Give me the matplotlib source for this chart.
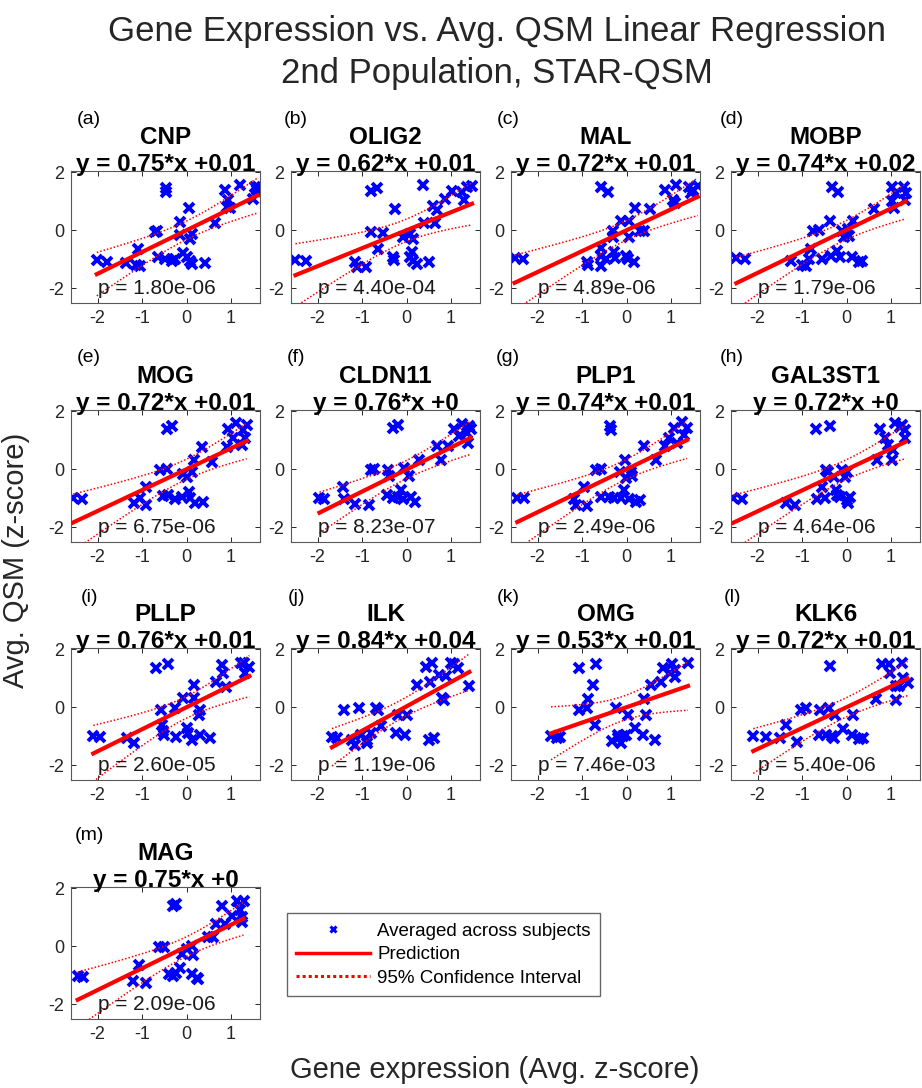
import numpy as np
import matplotlib.pyplot as plt
from matplotlib.lines import Line2D

plt.rcParams['font.family'] = ['Liberation Sans', 'DejaVu Sans']
plt.rcParams['axes.unicode_minus'] = False

genes = ["CNP", "OLIG2", "MAL", "MOBP", "MOG", "CLDN11", "PLP1", "GAL3ST1",
         "PLLP", "ILK", "OMG", "KLK6", "MAG"]
letters = ["a", "b", "c", "d", "e", "f", "g", "h", "i", "j", "k", "l", "m"]
slopes = [0.75, 0.62, 0.72, 0.74, 0.72, 0.76, 0.74, 0.72, 0.76, 0.84, 0.53, 0.72, 0.75]
intercepts = [0.01, 0.01, 0.01, 0.02, 0.01, 0, 0.01, 0, 0.01, 0.04, 0.01, 0.01, 0]
p_values = [1.80e-06, 4.40e-04, 4.89e-06, 1.79e-06, 6.75e-06, 8.23e-07, 2.49e-06,
            4.64e-06, 2.60e-05, 1.19e-06, 7.46e-03, 5.40e-06, 2.09e-06]

# gene expression (x) and avg QSM (y), averaged across subjects
x_cnp = [-2.02, -1.8, -1.37, -1.09, -1.13, -1.05, -0.71, -0.66, -0.47, -0.47, -0.64, -0.48,
         -0.32, -0.26, -0.15, -0.15, -0.08, 0.0, 0.08, 0.11, 0.06, 0.11, 0.08, 0.41, 0.64,
         0.86, 0.94, 0.98, 0.9, 1.19, 1.5, 1.54, 1.6, 1.58, 1.6]
y_cnp = [-1.02, -1.07, -1.13, -0.64, -1.19, -1.22, -0.06, -0.03, 1.45, 1.34, -0.91, -0.99,
         -1.05, -0.99, 0.29, -0.17, -0.79, -0.93, -0.29, -0.12, 0.76, -1.16, -1.05, -1.13, 0.26,
         1.4, 1.05, 0.76, 0.81, 1.57, 1.1, 1.51, 1.51, 1.4, 1.3]

x_olig2 = [-2.5, -2.27, -1.16, -1.11, -0.91, -0.79, -0.66, -0.79, -0.64, -0.53, -0.26, -0.3,
           -0.28, -0.08, 0.08, 0.11, 0.08, 0.15, 0.23, 0.15, 0.36, 0.39, 0.51, 0.59, 0.64,
           0.68, 0.87, 1.02, 1.25, 1.28, 1.36, 1.47]
y_olig2 = [-1.02, -1.06, -1.1, -1.27, -1.25, 1.36, 1.48, -0.06, -0.64, -0.09, 0.75, -0.92,
           -1.02, -0.23, -0.12, -0.75, -0.92, -1.04, -1.16, -0.29, 1.56, 0.25, -1.1, 0.83, 0.25,
           0.69, 1.1, 1.36, 1.33, 1.04, 1.5, 1.53]

x_mal = [-2.52, -2.32, -0.88, -0.86, -0.58, -0.42, -0.58, -0.57, -0.57, -0.46, -0.31, -0.31,
         -0.29, -0.27, -0.13, -0.01, 0.06, 0.06, 0.02, 0.17, 0.18, 0.3, 0.39, 0.52, 0.87,
         1.04, 1.11, 1.09, 1.41, 1.44, 1.6, 1.5]
y_mal = [-0.96, -0.98, -1.09, -1.18, 1.49, 1.34, -0.62, -0.87, -1.21, -0.98, -0.02, -0.24,
         -0.75, -0.96, 0.32, -0.87, 0.32, -0.24, -0.98, -1.09, 0.78, -0.02, -0.02, 0.74, 1.4,
         1.06, 1.57, 0.95, 1.51, 1.29, 1.54, 1.4]

x_mobp = [-2.48, -2.28, -1.25, -1.0, -0.92, -0.85, -0.81, -0.75, -0.62, -0.55, -0.38, -0.36,
          -0.32, -0.2, -0.21, -0.15, -0.1, -0.06, 0.02, 0.05, 0.15, 0.13, 0.28, 0.35, 0.62,
          1.03, 1.03, 1.07, 1.1, 1.29, 1.33, 1.31]
y_mobp = [-0.96, -0.98, -1.04, -1.18, -1.21, -0.98, -0.64, -0.02, 0.0, -1.0, 0.32, -0.87,
          1.51, 1.34, -0.7, -0.92, -0.02, -0.24, 0.04, -0.19, 0.32, -0.92, -1.09, -1.04, 0.74,
          1.51, 1.0, 0.78, 1.29, 1.51, 1.29, 1.06]

x_mog = [-2.55, -2.36, -1.18, -1.05, -0.91, -0.91, -0.45, -0.34, -0.6, -0.45, -0.54, -0.41,
         -0.26, -0.11, -0.08, 0.0, 0.06, 0.07, 0.16, 0.13, 0.19, 0.37, 0.34, 0.56, 0.9, 0.94,
         1.05, 1.12, 1.24, 1.27, 1.35, 1.31]
y_mog = [-0.97, -1.03, -1.17, -0.99, -1.23, -0.6, 1.38, 1.49, -0.02, 0.0, -0.92, -0.89,
         -1.03, -0.94, -0.14, -0.25, -0.77, -1.0, 0.32, -0.08, -1.17, -1.11, 0.78, 0.26, 0.78,
         1.38, 1.07, 1.59, 0.84, 1.36, 1.53, 1.07]

x_cldn11 = [-1.96, -1.86, -1.43, -1.4, -1.15, -0.84, -0.81, -0.74, -0.43, -0.39, -0.31, -0.2,
            -0.44, -0.31, -0.2, -0.13, -0.09, -0.05, 0.06, 0.1, 0.19, 0.28, 0.68, 0.77, 0.92,
            1.07, 1.18, 1.25, 1.4, 1.44, 1.37, 1.35]
y_cldn11 = [-1.0, -1.03, -0.62, -1.03, -1.2, -1.23, -0.03, 0.0, -0.03, -0.22, 1.44, 1.52,
            -0.88, -1.0, -0.94, -0.71, -1.03, 0.05, -0.24, -0.94, -1.12, 0.34, 0.8, 0.34, 0.8,
            1.41, 1.15, 1.56, 1.5, 1.38, 0.92, 1.27]

x_plp1 = [-2.46, -2.3, -1.18, -1.14, -0.96, -0.88, -0.69, -0.57, -0.58, -0.4, -0.37, -0.36,
          -0.28, -0.15, -0.13, -0.06, -0.04, -0.02, 0.05, 0.09, 0.13, 0.2, 0.31, 0.4, 0.65,
          0.87, 0.95, 1.06, 1.25, 1.36, 1.28, 1.13]
y_plp1 = [-0.98, -1.0, -1.03, -1.23, -0.59, -1.27, -0.03, 0.0, -0.94, -0.94, 1.5, 1.36,
          -1.0, -0.07, -1.0, -0.71, 0.34, -0.3, -1.03, -0.07, -0.24, -1.12, -1.06, 0.8, 0.34,
          0.8, 1.09, 1.44, 1.62, 1.44, 1.2, 0.92]

x_gal3st1 = [-2.55, -2.36, -1.36, -1.16, -0.68, -0.37, -0.56, -0.66, -0.48, -0.46, -0.41, -0.29,
             -0.25, -0.22, -0.14, -0.1, -0.03, 0.01, 0.08, 0.01, 0.04, 0.68, 0.74, 0.87, 0.94,
             1.02, 1.05, 1.09, 1.24, 1.32, 1.32, 1.19]
y_gal3st1 = [-1.0, -1.03, -1.17, -1.23, 1.38, 1.49, -0.6, -1.03, -1.0, -0.02, -0.08, -0.25,
             -0.71, -0.89, -0.94, -0.02, -0.25, -1.06, -0.94, -0.08, -1.17, 0.32, 1.38, 1.07, 0.84,
             0.32, 0.67, 1.61, 1.53, 1.36, 1.07, 1.47]

x_pllp = [-2.1, -1.95, -1.34, -1.18, -0.69, -0.42, -0.57, -0.55, -0.53, -0.5, -0.27, -0.23,
          -0.09, 0.0, 0.04, 0.11, 0.17, 0.17, 0.27, 0.31, 0.29, 0.52, 0.65, 0.8, 0.82, 0.88,
          1.22, 1.31, 1.41, 1.3]
y_pllp = [-0.99, -1.02, -1.05, -1.22, 1.35, 1.5, -0.08, -0.59, -0.82, -0.94, -0.02, -1.02,
          0.32, -0.71, -0.88, -1.11, 0.78, 0.32, -0.25, -0.08, -0.94, -1.05, 0.89, 1.46, 1.18,
          0.72, 1.54, 1.18, 1.38, 1.52]

x_ilk = [-1.68, -1.56, -1.41, -1.22, -1.16, -1.07, -1.03, -0.88, -0.88, -0.8, -0.69, -0.65,
         -0.57, -0.23, -0.19, -0.04, 0.0, 0.23, 0.44, 0.5, 0.53, 0.57, 0.61, 0.73, 0.8, 0.85,
         0.88, 0.99, 1.07, 1.15, 1.41]
y_ilk = [-1.02, -1.05, -0.08, -1.11, -1.31, -0.02, -0.94, -1.11, -1.22, -0.88, -0.02, -0.1,
         -0.65, -0.88, -0.25, -0.94, -0.25, 0.78, 1.38, -1.11, 0.89, 1.52, -1.05, 1.12, 0.32,
         0.26, 1.07, 1.52, 1.5, 1.35, 0.74]

x_omg = [-1.7, -1.56, -1.49, -1.07, -1.07, -0.88, -0.87, -0.75, -0.72, -0.69, -0.32, -0.24,
         -0.2, -0.19, -0.13, -0.09, -0.02, 0.02, 0.19, 0.36, 0.4, 0.44, 0.54, 0.63, 0.78, 0.82,
         0.97, 1.02, 1.08, 1.08, 1.38]
y_omg = [-0.99, -1.05, -1.02, 1.35, -0.08, -0.02, 0.29, 0.78, -0.59, 1.5, -1.17, -0.02,
         -0.94, -1.05, -1.22, -0.99, -0.94, -0.25, -0.71, -0.94, 0.29, -0.25, 0.78, -1.11, 0.89,
         1.35, 1.18, 1.5, 1.29, 1.06, 1.54]

x_klk6 = [-2.1, -1.82, -1.49, -1.37, -1.11, -1.03, -0.92, -0.61, -0.6, -0.46, -0.4, -0.38,
          -0.29, -0.27, -0.34, -0.09, 0.11, 0.14, 0.27, 0.37, 0.65, 0.8, 0.95, 0.98, 1.11, 1.11,
          1.24, 1.26, 1.37, 1.18]
y_klk6 = [-0.99, -1.02, -1.05, -0.62, -1.2, -0.08, -0.02, -0.94, -0.08, -0.94, -0.02, 1.43,
          -1.05, -0.25, -0.99, -0.74, -0.94, -0.25, -1.08, -1.05, 0.29, 1.5, 1.5, 1.18, 0.74,
          0.26, 1.54, 1.03, 0.83, 0.74]

x_mag = [-2.45, -2.34, -1.21, -1.06, -0.91, -0.62, -0.51, -0.3, -0.23, -0.39, -0.3, -0.23,
         -0.15, -0.11, 0.0, 0.11, 0.14, 0.11, 0.23, 0.26, 0.49, 0.6, 0.66, 0.79, 0.87, 1.02,
         1.13, 1.21, 1.25, 1.28, 1.25]
y_mag = [-1.02, -1.05, -1.19, -0.64, -1.25, -0.03, -0.01, 1.38, 1.47, -0.96, -1.02, -0.9,
         -0.73, -0.27, -0.09, 0.02, -0.29, -0.96, -1.08, -1.13, 0.31, 0.31, 0.77, 1.38, 0.77,
         1.06, 1.58, 1.24, 1.01, 1.56, 0.83]

x_data = [x_cnp, x_olig2, x_mal, x_mobp, x_mog, x_cldn11, x_plp1, x_gal3st1,
          x_pllp, x_ilk, x_omg, x_klk6, x_mag]
y_data = [y_cnp, y_olig2, y_mal, y_mobp, y_mog, y_cldn11, y_plp1, y_gal3st1,
          y_pllp, y_ilk, y_omg, y_klk6, y_mag]

W, H = 922, 1088
fig = plt.figure(figsize=(W / 100, H / 100), dpi=100)

col_left = [71, 291, 511, 731]
row_top = [171, 410, 648, 887]
label_x = [89, 296, 508, 732]
ax_w, ax_h = 189, 132

for i, gene in enumerate(genes):
    r, c = divmod(i, 4)
    ax = fig.add_axes([col_left[c] / W, 1 - (row_top[r] + ax_h) / H, ax_w / W, ax_h / H])
    x = np.array(x_data[i])
    y = np.array(y_data[i])
    m, b = slopes[i], intercepts[i]

    # simultaneous 95% confidence bounds for the fitted line
    n = len(x)
    xbar = x.mean()
    sxx = np.sum((x - xbar) ** 2)
    s = np.sqrt(np.sum((y - (m * x + b)) ** 2) / (n - 2))
    xs = np.linspace(x.min(), x.max(), 100)
    half = np.sqrt(2 * 3.3) * s * np.sqrt(1 / n + (xs - xbar) ** 2 / sxx)

    ax.plot(x, y, 'x', color='blue', ms=7.5, mew=2.8, zorder=2)
    ax.plot(xs, m * xs + b, color='red', lw=3, zorder=3)
    ax.plot(xs, m * xs + b + half, color='red', lw=1.1, ls=(0, (1, 1.3)), zorder=3)
    ax.plot(xs, m * xs + b - half, color='red', lw=1.1, ls=(0, (1, 1.3)), zorder=3)

    ax.set_xlim(-2.6, 1.65)
    ax.set_ylim(-2.5, 2.05)
    ax.set_xticks([-2, -1, 0, 1])
    ax.set_yticks([-2, 0, 2])
    ax.tick_params(direction='in', top=True, right=True, length=3.5, width=0.7,
                   labelsize=13, colors='0.15', pad=5)
    for sp in ax.spines.values():
        sp.set_color('0.35')
        sp.set_linewidth(0.8)

    ax.text(-2.0, -2.0, "p = %.2e" % p_values[i], fontsize=15, va='center', ha='left',
            color='0.1')
    ax.set_title(f"{gene}\ny = {m:g}*x +{b:g}", fontsize=17.5, fontweight='bold',
                 linespacing=1.2, pad=0)
    fig.text(label_x[c] / W, 1 - (119 + 239 * r) / H, f"({letters[i]})", fontsize=14,
             ha='center', va='center')

fig.text(497 / W, 1 - 31 / H, "Gene Expression vs. Avg. QSM Linear Regression",
         fontsize=25, ha='center', va='center', color='0.15')
fig.text(497 / W, 1 - 73 / H, "2nd Population, STAR-QSM",
         fontsize=25, ha='center', va='center', color='0.15')
fig.text(495 / W, 1 - 1070 / H, "Gene expression (Avg. z-score)",
         fontsize=21, ha='center', va='center', color='0.15')
fig.text(16 / W, 1 - 560 / H, "Avg. QSM (z-score)", fontsize=21, rotation=90,
         ha='center', va='center', color='0.15')

handles = [
    Line2D([], [], ls='none', marker='x', color='blue', ms=5, mew=2.2),
    Line2D([], [], color='red', lw=2.5),
    Line2D([], [], color='red', lw=2.2, ls=(0, (1, 1))),
]
fig.legend(handles, ["Averaged across subjects", "Prediction", "95% Confidence Interval"],
           loc='upper left', bbox_to_anchor=(287 / W, 1 - 913 / H), borderaxespad=0,
           fontsize=13.5, handlelength=3.9, handletextpad=0.4, labelspacing=0.35,
           fancybox=False, edgecolor='0.4', framealpha=1, borderpad=0.5)

fig.savefig("out.png", dpi=100)
